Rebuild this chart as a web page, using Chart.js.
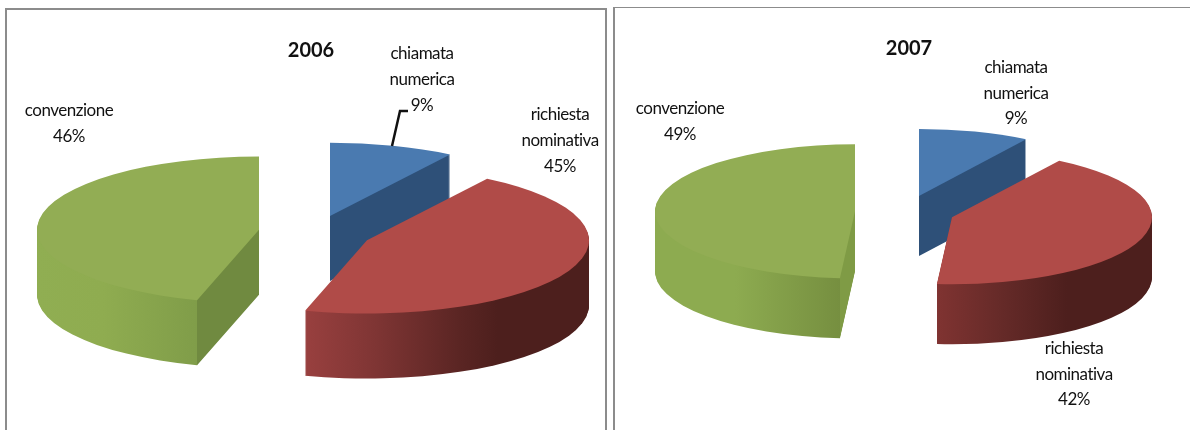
<!DOCTYPE html>
<html>
<head>
<meta charset="utf-8">
<script src="https://cdn.jsdelivr.net/npm/chart.js@4"></script>
<style>
  html, body { margin: 0; padding: 0; background: #fff; overflow: hidden; }
  body { width: 1190px; height: 430px; position: relative; }
  .frame { position: absolute; box-sizing: border-box; border: 0 solid #8c8c8c; }
  canvas { position: absolute; }
</style>
</head>
<body>
<div class="frame" style="left:5px;top:8px;width:602px;height:430px;border-width:2px 2px 0 2px"></div>
<div class="frame" style="left:613px;top:7px;width:577px;height:430px;border-width:1.5px 0 0 2px"></div>
<canvas id="pie2006" width="598" height="420" style="left:7px;top:10px"></canvas>
<canvas id="pie2007" width="575" height="421" style="left:615px;top:9px"></canvas>
<script>
var categories = ['chiamata numerica', 'richiesta nominativa', 'convenzione'];
var values2006 = [9.1, 45.4, 45.5];
var values2007 = [9, 42.2, 48.8];

var FONT = 'Lato, sans-serif';
var topColors = ['#4a7ab0', '#b04b48', '#92ad54'];

// fake 3D: squash the arcs and stack them downwards
var tiltPlugin = {
  id: 'tilt',
  beforeDatasetsDraw: function (chart) {
    var p = chart.options.plugins.tilt;
    var ctx = chart.ctx;
    var arcs = chart.getDatasetMeta(0).data;
    var cx = p.cx - p.ox, cy = p.cy - p.oy;

    arcs.forEach(function (arc, i) {
      var mid = (arc.startAngle + arc.endAngle) / 2;
      // whole pixels, otherwise the stacked layers leave a dark fringe on straight edges
      var px = Math.round(cx + Math.cos(mid) * p.explode[i]);

      function drawArc(yShift, color) {
        ctx.save();
        ctx.translate(px, cy + yShift + Math.sin(mid) * p.explode[i] * p.tilt);
        ctx.scale(1, p.tilt);
        ctx.translate(-arc.x, -arc.y);
        var saved = arc.options;
        var opts = Object.create(saved);
        opts.backgroundColor = color;
        arc.options = opts;
        arc.draw(ctx);
        arc.options = saved;
        ctx.restore();
      }

      var shiftX = arc.x - px - p.ox;
      var g = ctx.createLinearGradient(p.sideFrom[i] + shiftX, 0, p.sideTo[i] + shiftX, 0);
      p.sideStops[i].forEach(function (s) { g.addColorStop(s[0], s[1]); });
      for (var d = p.depth; d > 0; d--) drawArc(d, g);
      drawArc(0, topColors[i]);
    });
    return false;
  },
  afterDraw: function (chart) {
    var p = chart.options.plugins.tilt;
    var ctx = chart.ctx;
    var values = chart.data.datasets[0].data;
    ctx.save();
    ctx.translate(-p.ox, -p.oy);
    ctx.fillStyle = '#111';
    ctx.font = '17px ' + FONT;
    ctx.letterSpacing = '-0.5px';
    ctx.textAlign = 'center';
    ctx.textBaseline = 'middle';
    chart.data.labels.forEach(function (label, i) {
      var lines = label.split(' ').concat(Math.round(values[i]) + '%');
      var pos = p.labelPos[i];
      lines.forEach(function (line, n) {
        ctx.fillText(line, pos[0], pos[1] + n * p.lineGap);
      });
    });
    if (p.leader) {
      ctx.strokeStyle = '#111';
      ctx.lineWidth = 2.5;
      ctx.beginPath();
      p.leader.forEach(function (pt, n) {
        if (n === 0) ctx.moveTo(pt[0], pt[1]); else ctx.lineTo(pt[0], pt[1]);
      });
      ctx.stroke();
    }
    ctx.restore();
  }
};

function makePie(id, year, values, radius, titlePad, tilt) {
  new Chart(document.getElementById(id), {
    type: 'pie',
    data: {
      labels: categories,
      datasets: [{
        data: values,
        backgroundColor: topColors,
        borderWidth: 0,
        radius: radius,
        clip: false
      }]
    },
    options: {
      responsive: false,
      animation: false,
      layout: { padding: { left: titlePad.left } },
      plugins: {
        legend: { display: false },
        tooltip: { enabled: false },
        title: {
          display: true,
          text: year,
          fullSize: false,
          color: '#111',
          font: { family: FONT, size: 20, weight: 'bold' },
          padding: { top: titlePad.top, bottom: 0 }
        },
        tilt: tilt
      }
    },
    plugins: [tiltPlugin]
  });
}

makePie('pie2006', '2006', values2006, 222, { left: 10, top: 29 }, {
  ox: 7, oy: 10, cx: 315.5, cy: 232.5, tilt: 0.33, explode: [52, 57, 57], depth: 65,
  sideFrom: [330, 304, 36],
  sideTo: [449, 589, 259],
  sideStops: [
    [[0, '#2e5078'], [1, '#2e5078']],
    [[0, '#99403f'], [0.25, '#7f3534'], [0.55, '#5a2523'], [0.68, '#4d1f1d'], [1, '#4d1f1d']],
    [[0, '#90ae52'], [0.3, '#8fac50'], [0.72, '#809d49'], [0.72, '#708a40'], [1, '#708a40']]
  ],
  labelPos: [[422, 54], [560, 115], [69, 111]],
  lineGap: 26,
  leader: [[392, 146], [400, 111], [408, 111]]
});

makePie('pie2007', '2007', values2007, 200, { left: 13, top: 28 }, {
  ox: 615, oy: 9, cx: 905, cy: 212, tilt: 0.335, explode: [50, 50, 50], depth: 60,
  sideFrom: [918, 938, 655],
  sideTo: [1026, 1153, 855],
  sideStops: [
    [[0, '#2e5078'], [1, '#2e5078']],
    [[0, '#7f3331'], [0.3, '#652a28'], [0.6, '#4d1f1d'], [1, '#4d1f1d']],
    [[0, '#8dab50'], [0.4, '#8dab50'], [0.925, '#768f40'], [0.925, '#7f9b45'], [1, '#7f9b45']]
  ],
  labelPos: [[1016, 68], [1074, 349], [680, 109]],
  lineGap: 25.5
});
</script>
</body>
</html>
